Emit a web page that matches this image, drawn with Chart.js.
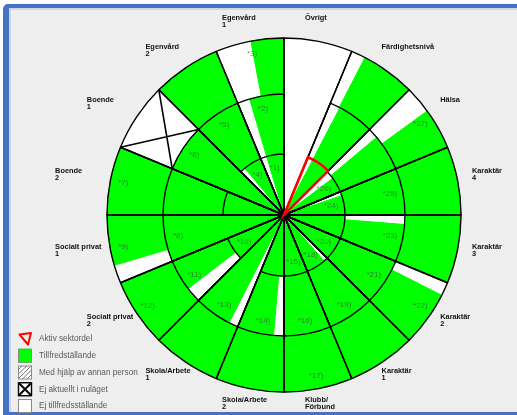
<!DOCTYPE html>
<html>
<head>
<meta charset="utf-8">
<script src="https://cdn.jsdelivr.net/npm/chart.js@4.4.1/dist/chart.umd.min.js"></script>
<style>
html, body { margin: 0; padding: 0; background: #fff; overflow: hidden; }
#ram { position: absolute; left: 3px; top: 4px; width: 520px; height: 404px; background: #eeeeee;
       border-top: 4px solid #4472c4; border-left: 6px solid #4472c4; border-bottom: 3px solid #4472c4;
       border-top-left-radius: 5px; box-shadow: inset 2px 2px 0 #cdd6e6; }
#hjul { position: absolute; left: 0; top: 0; }
</style>
</head>
<body>
<div id="ram"></div>
<canvas id="hjul" width="517" height="415"></canvas>
<script>
// sektorer medurs från kl 12
var sectors = ['Övrigt', 'Färdighetsnivå', 'Hälsa', 'Karaktär\n4', 'Karaktär\n3', 'Karaktär\n2', 'Karaktär\n1', 'Klubb/\nFörbund',
    'Skola/Arbete\n2', 'Skola/Arbete\n1', 'Socialt privat\n2', 'Socialt privat\n1', 'Boende\n2', 'Boende\n1', 'Egenvård\n2', 'Egenvård\n1'];

// ringarnas ytterkant (inre, mitten, yttre)
var ringTops = [61, 121, 177];

// finns bågen i sektorn?
var innerArc = [0, 0, 1, 1, 1, 1, 1, 1, 1, 0, 1, 0, 1, 0, 1, 1];
var midArc   = [0, 1, 1, 1, 1, 1, 1, 1, 1, 1, 1, 1, 1, 1, 1, 1];

// ej tillfredsställande del av cellen, i grader från sektorns början
var whiteInner = [22.5, 5.5, 8, 4, 0, 0, 4, 0, 0, 0, 0, 0, 0, 0, 5, 6];
var whiteMid   = [22.5, 5, 5, 0, 4.5, 0, 0, 0, 5, 4.5, 7.5, 0, 0, 0, 0, 6];
var whiteOuter = [22.5, 4.7, 9, 0, 0, 4.5, 0, 0, 0, 0, 0, 6, 0, 22.5, 0, 11.7];

// cellnummer
var innerNums = [null, null, 26, 24, null, 20, 18, 15, null, null, 10, null, null, null, 4, 1];
var midNums   = [null, null, null, 25, 23, 21, 19, 16, 14, 13, 11, 8, null, 6, 5, 2];
var outerNums = [null, null, 27, null, null, 22, null, 17, null, null, 12, 9, 7, null, null, 3];

// [sektor, ring]
var crossedCells = [[13, 2]];
var activeCell = [1, 0];

var legendLabels = ['Aktiv sektordel', 'Tillfredställande', 'Med hjälp av annan person', 'Ej aktuellt i nuläget', 'Ej tillfredsställande'];

var GREEN = '#00ff00';
var WHITE = '#ffffff';
var sectorAngle = 360 / sectors.length;

// fyllning för en ring
function fillSet(whites, ring, arcs, order) {
    var r = [], ang = [], col = [], bw = [];
    for (var i = 0; i < sectors.length; i++) {
        var top = (arcs && !arcs[i]) ? 0 : ringTops[ring];
        var w = whites[i];
        if (w > 0) { r.push(top); ang.push(w); col.push(WHITE); bw.push(top ? 1 : 0); }
        if (w < sectorAngle) { r.push(top); ang.push(sectorAngle - w); col.push(GREEN); bw.push(top ? 1 : 0); }
    }
    return { data: r, angle: ang, backgroundColor: col, borderColor: col, borderWidth: bw, order: order };
}

// svarta linjer för en ring
function gridSet(ring, arcs, order) {
    var r = [], bw = [];
    for (var i = 0; i < sectors.length; i++) {
        var on = !arcs || arcs[i];
        r.push(on ? ringTops[ring] : 0);
        bw.push(on ? 1.4 : 0);
    }
    return { data: r, angle: sectorAngle, backgroundColor: 'rgba(0,0,0,0)', borderColor: '#000', borderWidth: bw, order: order };
}

function activeSet(order) {
    var r = [], bw = [];
    for (var i = 0; i < sectors.length; i++) {
        var on = i === activeCell[0];
        r.push(on ? ringTops[activeCell[1]] + 1.5 : 0);
        bw.push(on ? 2.6 : 0);
    }
    return { data: r, angle: sectorAngle, backgroundColor: 'rgba(0,0,0,0)', borderColor: '#ff0000',
        borderWidth: bw, borderJoinStyle: 'miter', order: order };
}

var extras = {
    id: 'extras',
    afterDatasetsDraw: function (chart) {
        var ctx = chart.ctx;
        var sc = chart.scales.r;
        var cx = sc.xCenter, cy = sc.yCenter;
        function pt(v, deg) {
            var d = sc.getDistanceFromCenterForValue(v);
            var a = deg * Math.PI / 180;
            return [cx + d * Math.sin(a), cy - d * Math.cos(a)];
        }
        ctx.save();

        // ej aktuellt: kryss
        ctx.strokeStyle = '#000';
        ctx.lineWidth = 1.6;
        crossedCells.forEach(function (c) {
            var a0 = c[0] * sectorAngle, a1 = a0 + sectorAngle;
            var rIn = ringTops[c[1] - 1], rOut = ringTops[c[1]];
            var p1 = pt(rIn, a0), p2 = pt(rOut, a1), p3 = pt(rOut, a0), p4 = pt(rIn, a1);
            ctx.beginPath();
            ctx.moveTo(p1[0], p1[1]); ctx.lineTo(p2[0], p2[1]);
            ctx.moveTo(p3[0], p3[1]); ctx.lineTo(p4[0], p4[1]);
            ctx.stroke();
        });

        // cellnummer
        ctx.font = '8px "Liberation Sans", Arial, sans-serif';
        ctx.fillStyle = 'rgba(60,60,60,0.6)';
        ctx.textAlign = 'center';
        ctx.textBaseline = 'middle';
        [innerNums, midNums, outerNums].forEach(function (nums, ring) {
            nums.forEach(function (n, i) {
                if (n === null) return;
                var p = pt(ringTops[ring] - 13, (i + 0.5) * sectorAngle);
                ctx.fillText('*' + n + ')', p[0], p[1]);
            });
        });

        // sektornamn
        ctx.font = 'bold 7.4px "Liberation Sans", Arial, sans-serif';
        ctx.fillStyle = '#111';
        ctx.textAlign = 'left';
        ctx.textBaseline = 'alphabetic';
        sectors.forEach(function (name, i) {
            var a = (i + 0.5) * sectorAngle * Math.PI / 180;
            var x = cx - 20.5 + 212.5 * Math.sin(a);
            var y = cy - 9.5 - 195 * Math.cos(a);
            name.split('\n').forEach(function (line, k) {
                ctx.fillText(line, x, y + 5.3 + k * 7);
            });
        });

        // teckenförklaring
        var lx = 18, ly = 332, step = 16.75, box = 14;
        legendLabels.forEach(function (txt, i) {
            var y = ly + i * step;
            ctx.lineJoin = 'miter';
            if (i === 0) {
                ctx.strokeStyle = '#ff0000';
                ctx.lineWidth = 2;
                ctx.lineJoin = 'round';
                ctx.beginPath();
                ctx.moveTo(lx + 1.5, y + 2.5);
                ctx.lineTo(lx + 13, y + 1);
                ctx.lineTo(lx + 10, y + 12.5);
                ctx.closePath();
                ctx.stroke();
            } else {
                ctx.fillStyle = i === 1 ? GREEN : WHITE;
                ctx.fillRect(lx, y, box, box);
                if (i === 2) {
                    ctx.save();
                    ctx.beginPath();
                    ctx.rect(lx, y, box, box);
                    ctx.clip();
                    ctx.strokeStyle = '#777';
                    ctx.lineWidth = 1;
                    ctx.beginPath();
                    for (var k = -box; k < box; k += 4.5) {
                        ctx.moveTo(lx + k, y + box);
                        ctx.lineTo(lx + k + box, y);
                    }
                    ctx.stroke();
                    ctx.restore();
                }
                if (i === 3) {
                    ctx.strokeStyle = '#000';
                    ctx.lineWidth = 2;
                    ctx.beginPath();
                    ctx.moveTo(lx + 1, y + 1); ctx.lineTo(lx + box - 1, y + box - 1);
                    ctx.moveTo(lx + box - 1, y + 1); ctx.lineTo(lx + 1, y + box - 1);
                    ctx.stroke();
                }
                ctx.strokeStyle = i === 3 ? '#000' : '#8a8a8a';
                ctx.lineWidth = i === 3 ? 1.4 : 1;
                ctx.strokeRect(lx + 0.5, y + 0.5, box - 1, box - 1);
            }
            ctx.font = '8.2px "Liberation Sans", Arial, sans-serif';
            ctx.fillStyle = '#5a5a5a';
            ctx.textAlign = 'left';
            ctx.textBaseline = 'middle';
            ctx.fillText(txt, lx + 21, y + 7);
        });
        ctx.restore();
    }
};

var chart = new Chart(document.getElementById('hjul'), {
    type: 'polarArea',
    data: {
        labels: sectors,
        datasets: [
            activeSet(0),
            gridSet(0, innerArc, 1),
            gridSet(1, midArc, 2),
            gridSet(2, null, 3),
            fillSet(whiteInner, 0, innerArc, 4),
            fillSet(whiteMid, 1, midArc, 5),
            fillSet(whiteOuter, 2, null, 6)
        ]
    },
    options: {
        responsive: false,
        animation: false,
        events: [],
        layout: { padding: { left: 107, right: 56, top: 38, bottom: 23 } },
        scales: {
            r: {
                min: 0,
                max: 177,
                startAngle: 0,
                grid: { display: false },
                angleLines: { display: false },
                ticks: { display: false },
                pointLabels: { display: false }
            }
        },
        plugins: {
            legend: { display: false },
            tooltip: { enabled: false }
        }
    },
    plugins: [extras]
});
</script>
</body>
</html>
